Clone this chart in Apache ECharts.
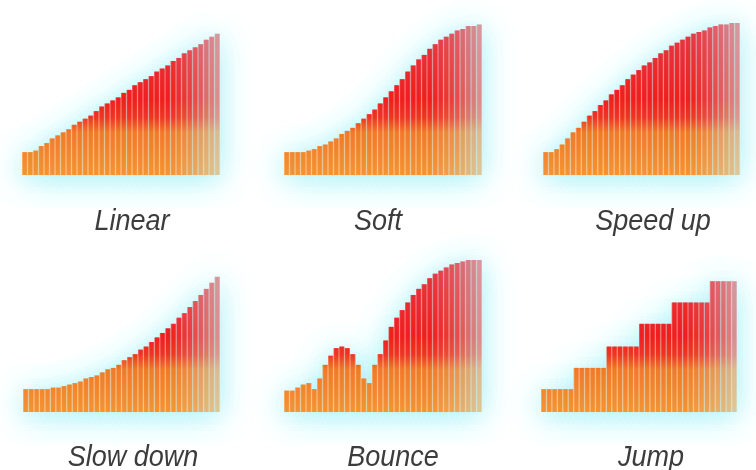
<!DOCTYPE html>
<html>
<head>
<meta charset="utf-8">
<title>Easing curves</title>
<script src="https://cdn.jsdelivr.net/npm/echarts@6/dist/echarts.min.js"></script>
<style>
  html, body { margin: 0; padding: 0; background: #fff; }
  #chart { width: 756px; height: 470px; filter: blur(0.6px); }
</style>
</head>
<body>
<div id="chart"></div>
<script>
// bar heights, 0..100 of each panel
var names = ['Linear', 'Soft', 'Speed up', 'Slow down', 'Bounce', 'Jump'];

var linear   = [15, 15, 16, 19, 21, 24, 26, 28, 30, 33, 35, 37, 39, 42, 45, 47, 49, 51,
                54, 56, 59, 61, 63, 65, 68, 70, 72, 75, 77, 80, 82, 84, 86, 89, 91, 93];
var soft     = [15, 15, 15, 15, 16, 17, 19, 20, 22, 24, 27, 29, 31, 34, 37, 40, 43, 47,
                51, 55, 59, 63, 68, 72, 76, 79, 83, 86, 89, 91, 93, 95, 96, 98, 98, 99];
var speedUp  = [15, 15, 17, 20, 24, 28, 31, 35, 39, 42, 46, 49, 53, 56, 59, 63, 66, 69,
                72, 74, 77, 80, 82, 85, 87, 89, 91, 93, 94, 95, 97, 98, 99, 99, 100, 100];
var slowDown = [15, 15, 15, 15, 15, 16, 16, 17, 18, 19, 20, 22, 23, 24, 26, 28, 29, 31,
                34, 36, 38, 41, 43, 46, 49, 52, 55, 58, 62, 65, 69, 73, 77, 81, 85, 89];
var bounce   = [14, 14, 16, 18, 19, 15, 22, 31, 37, 42, 43, 42, 38, 31, 22, 19, 31, 38,
                47, 56, 62, 67, 72, 77, 81, 84, 88, 91, 93, 95, 97, 98, 99, 100, 100, 100];
var jump     = [15, 15, 15, 15, 15, 15, 29, 29, 29, 29, 29, 29, 43, 43, 43, 43, 43, 43,
                58, 58, 58, 58, 58, 58, 72, 72, 72, 72, 72, 72, 72, 86, 86, 86, 86, 86];

var panels = [linear, soft, speedUp, slowDown, bounce, jump];
var categories = linear.map(function (_, i) { return String(i + 1); });

// panel boxes and label anchors
var boxes = [
  { left: 22,  top: 23,  width: 198 },
  { left: 284, top: 23,  width: 198 },
  { left: 543, top: 23,  width: 197 },
  { left: 23,  top: 260, width: 197 },
  { left: 284, top: 260, width: 198 },
  { left: 541, top: 260, width: 196 }
];
var boxHeight = 152;
var labelPos = [[132, 222], [378, 222], [653, 222], [133, 458], [393, 458], [651, 458]];

// right side of every panel fades out
var fade = [1, 1, 1, 1, 1, 1, 1, 1, 1, 1, 1, 1, 1, 1, 1, 1, 1, 1,
            1, 1, 1, 1, 1, 1, 1, 1, 1, 0.93, 0.86, 0.79, 0.72, 0.64, 0.56, 0.48, 0.41, 0.34];

function grad(y0, y1, stops) {
  return new echarts.graphic.LinearGradient(0, y0, 0, y1, stops, true);
}
var mainStops = [
  { offset: 0, color: '#e53a48' },
  { offset: 0.5, color: '#f01e1e' },
  { offset: 0.62, color: '#ee3424' },
  { offset: 0.72, color: '#f07a2a' },
  { offset: 1, color: '#f29434' }
];
var paleStops = [
  { offset: 0, color: '#ec7880' },
  { offset: 0.5, color: '#f46c68' },
  { offset: 0.62, color: '#f47e66' },
  { offset: 0.72, color: '#f6ac70' },
  { offset: 1, color: '#f8c080' }
];

function withFade(vals) {
  return vals.map(function (v, i) {
    return { value: v, itemStyle: { opacity: fade[i] } };
  });
}

var grid = [], xAxis = [], yAxis = [], series = [], labels = [];

boxes.forEach(function (b, k) {
  grid.push({ left: b.left, top: b.top, width: b.width, height: boxHeight });
  xAxis.push({ type: 'category', gridIndex: k, data: categories, show: false });
  xAxis.push({ type: 'category', gridIndex: k, data: categories, show: false });
  yAxis.push({ type: 'value', gridIndex: k, min: 0, max: 100, show: false });

  var y0 = b.top, y1 = b.top + boxHeight;
  var vals = panels[k];

  // cyan glow behind the shape
  series.push({
    type: 'bar', xAxisIndex: 2 * k + 1, yAxisIndex: k, data: vals,
    barCategoryGap: '0%', barGap: '-100%', z: 1, silent: true,
    itemStyle: {
      color: '#bff3f5',
      shadowBlur: 30, shadowColor: 'rgba(90,228,238,0.6)', shadowOffsetY: 4
    }
  });
  // pale fill that shows in the gaps
  series.push({
    type: 'bar', xAxisIndex: 2 * k + 1, yAxisIndex: k, data: withFade(vals),
    barCategoryGap: '0%', barGap: '-100%', z: 2, silent: true,
    itemStyle: { color: grad(y0, y1, paleStops) }
  });
  // the bars
  series.push({
    type: 'bar', xAxisIndex: 2 * k, yAxisIndex: k, data: withFade(vals),
    barCategoryGap: '24%', z: 3, silent: true,
    itemStyle: { color: grad(y0, y1, mainStops) }
  });

  labels.push({
    type: 'text',
    x: labelPos[k][0], y: labelPos[k][1],
    scaleX: 0.9,
    style: {
      text: names[k],
      fontFamily: '"Liberation Sans", Arial, sans-serif',
      fontStyle: 'italic', fontSize: 30,
      fill: '#3c3c3c',
      align: 'center', verticalAlign: 'middle'
    }
  });
});

var myChart = echarts.init(document.getElementById('chart'));
myChart.setOption({
  backgroundColor: '#fff',
  animation: false,
  grid: grid,
  xAxis: xAxis,
  yAxis: yAxis,
  series: series,
  graphic: labels
});
window.addEventListener('resize', function () {
  myChart.resize();
});
</script>
</body>
</html>
